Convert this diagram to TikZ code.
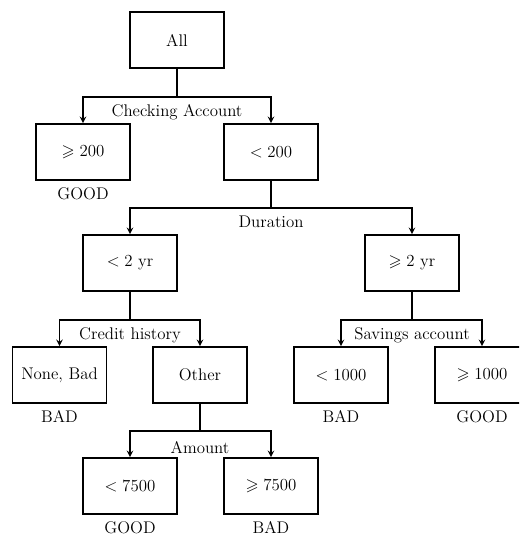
\documentclass[tikz,border=0pt]{standalone}
\usepackage{amsmath,amssymb}
\usetikzlibrary{positioning, arrows.meta}

\begin{document}
\begin{tikzpicture}[x=0.025cm, y=-0.025cm, >=stealth, line width=1.1pt,
    font=\fontsize{12}{14}\selectfont]
    \tikzset{
      split/.style={draw, minimum width=2.35cm, minimum height=1.4cm, inner sep=2pt},
      test/.style={anchor=base, yshift=-14pt},
      leaf/.style={anchor=base, yshift=-13.5pt}
    }
    \clip (0,0) rectangle (519,537);

    % Boxes
    \node[split] (all) at (177,40) {All};
    \node[split] (ge200) at (83,152) {$\geqslant 200$};
    \node[split] (lt200) at (271,152) {$< 200$};
    \node[split] (lt2yr) at (130,263) {$< 2$ yr};
    \node[split] (ge2yr) at (412,263) {$\geqslant 2$ yr};
    \node[split] (nonebad) at (59.5,375) {None, Bad};
    \node[split] (other) at (200,375) {Other};
    \node[split] (lt1000) at (341,375) {$< 1000$};
    \node[split] (ge1000) at (482,375) {$\geqslant 1000$};
    \node[split] (lt7500) at (130,486) {$< 7500$};
    \node[split] (ge7500) at (271,486) {$\geqslant 7500$};

    % Split points
    \coordinate (checking) at (177,97);
    \coordinate (duration) at (271,208);
    \coordinate (credit) at (130,320);
    \coordinate (savings) at (412,320);
    \coordinate (amount) at (200,431);

    % Connectors
    \draw (all.south) -- (checking);
    \draw[->] (checking) -| (ge200.north);
    \draw[->] (checking) -| (lt200.north);

    \draw (lt200.south) -- (duration);
    \draw[->] (duration) -| (lt2yr.north);
    \draw[->] (duration) -| (ge2yr.north);

    \draw (lt2yr.south) -- (credit);
    \draw[->] (credit) -| (nonebad.north);
    \draw[->] (credit) -| (other.north);

    \draw (ge2yr.south) -- (savings);
    \draw[->] (savings) -| (lt1000.north);
    \draw[->] (savings) -| (ge1000.north);

    \draw (other.south) -- (amount);
    \draw[->] (amount) -| (lt7500.north);
    \draw[->] (amount) -| (ge7500.north);

    % Split labels
    \node[test] (checkinglbl) at (checking) {Checking Account};
    \node[test] (durationlbl) at (duration) {Duration};
    \node[test] (creditlbl) at (credit) {Credit history};
    \node[test] (savingslbl) at (savings) {Savings account};
    \node[test, yshift=-2pt] (amountlbl) at (amount) {Amount};

    % Outcomes
    \node[leaf] (out1) at (ge200.south) {GOOD};
    \node[leaf] (out2) at (nonebad.south) {BAD};
    \node[leaf] (out3) at (lt1000.south) {BAD};
    \node[leaf] (out4) at (ge1000.south) {GOOD};
    \node[leaf] (out5) at (lt7500.south) {GOOD};
    \node[leaf] (out6) at (ge7500.south) {BAD};

\end{tikzpicture}
\end{document}
